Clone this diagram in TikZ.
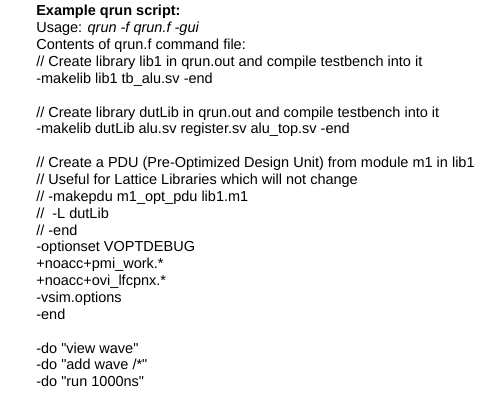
\documentclass[tikz,border=0pt]{standalone}
\usepackage{fontspec}
\newfontfamily\arialf{Liberation Sans}[Ligatures=CommonOff]
\tikzset{
  ln/.style={anchor=base west, inner sep=0pt, outer sep=0pt,
    font=\arialf\fontsize{14.5}{17}\selectfont, text=black}
}
\begin{document}
\begin{tikzpicture}[x=1pt,y=-1pt]
\fill[white] (0,0) rectangle (502,408);
\path[use as bounding box] (0,0) rectangle (502,408);
\def\lx{36.3}
\node[ln] (l0)  at (\lx,15.9)  {\bfseries Example qrun script:};
\node[ln] (l1)  at (\lx,32.76) {Usage: \itshape qrun -f qrun.f -gui};
\node[ln] (l2)  at (\lx,49.62) {Contents of qrun.f command file:};
\node[ln] (l3)  at (\lx,66.48) {// Create library lib1 in qrun.out and compile testbench into it};
\node[ln] (l4)  at (\lx,83.34) {-makelib lib1 tb\_alu.sv -end};
\node[ln] (l6)  at (\lx,117.06) {// Create library dutLib in qrun.out and compile testbench into it};
\node[ln] (l7)  at (\lx,133.92) {-makelib dutLib alu.sv register.sv alu\_top.sv -end};
\node[ln] (l9)  at (\lx,167.64) {// Create a PDU (Pre-Optimized Design Unit) from module m1 in lib1};
\node[ln] (l10) at (\lx,184.50) {// Useful for Lattice Libraries which will not change};
\node[ln] (l11) at (\lx,201.36) {// -makepdu m1\_opt\_pdu lib1.m1};
\node[ln] (l12) at (\lx,218.22) {//\ \ -L dutLib};
\node[ln] (l13) at (\lx,235.08) {// -end};
\node[ln] (l14) at (\lx,251.94) {-optionset VOPTDEBUG};
\node[ln] (l15) at (\lx,268.80) {+noacc+pmi\_work.*};
\node[ln] (l16) at (\lx,285.66) {+noacc+ovi\_lfcpnx.*};
\node[ln] (l17) at (\lx,302.52) {-vsim.options};
\node[ln] (l18) at (\lx,319.38) {-end};
\node[ln] (l20) at (\lx,353.10) {-do "view wave"};
\node[ln] (l21) at (\lx,369.96) {-do "add wave /*"};
\node[ln] (l22) at (\lx,386.82) {-do "run 1000ns"};
\end{tikzpicture}
\end{document}
